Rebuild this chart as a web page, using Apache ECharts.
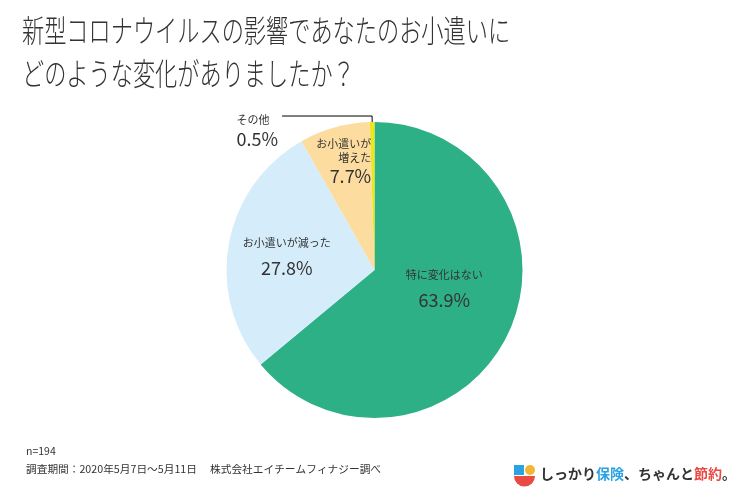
<!DOCTYPE html>
<html>
<head>
<meta charset="utf-8">
<script src="https://cdn.jsdelivr.net/npm/echarts@6/dist/echarts.min.js"></script>
<style>
    html, body { margin: 0; padding: 0; background: #fff; }
    #chart { width: 750px; height: 500px; }
</style>
</head>
<body>
<div id="chart"></div>
<script>
// データ
var names = ["特に変化はない", "お小遣いが減った", "お小遣いが増えた", "その他"];
var labelNames = ["特に変化はない", "お小遣いが減った", "お小遣いが\n増えた", "その他"];
var values = [63.9, 27.8, 7.7, 0.5];
var colors = ["#2eb086", "#d5ecfa", "#fddc9f", "#ece61c"];

(function() {
    var font = "'Noto Sans CJK JP', sans-serif";
    let myChart = echarts.init(document.getElementById("chart"));

    // ラベル位置の微調整 (dx, dy)
    var labelShift = [[0, -15], [-12, 0], [-10, -34], [0, 0]];
    // ラベルの文字スタイル (名前, 数値)
    var labelKeys = [["n", "v"], ["n", "v"], ["r", "w"], ["l", "u"]];

    var pieData = names.map(function(n, i) {
        var item = {
            name: n,
            value: values[i],
            itemStyle: { color: colors[i] }
        };
        if (i == 3) {
            item.label = {
                position: "outside",
                padding: [30, 0, 0, 0],
                distanceToLabelLine: 4
            };
            item.labelLine = {
                show: true,
                length: 6,
                length2: 90,
                lineStyle: { color: "#000", width: 1 }
            };
        }
        return item;
    });

    let option = {
        animation: false,
        textStyle: { fontFamily: font },
        graphic: [{
            type: "text",
            left: 22,
            top: 8,
            scaleY: 1.4,
            style: {
                text: "新型コロナウイルスの影響であなたのお小遣いに\nどのような変化がありましたか？",
                font: "300 22.2px " + font,
                lineHeight: 31,
                fill: "#333"
            }
        }, {
            type: "text",
            left: 26,
            top: 446,
            style: { text: "n=194", font: "10.5px " + font, fill: "#333" }
        }, {
            type: "text",
            left: 26,
            top: 464,
            style: {
                text: "調査期間：2020年5月7日〜5月11日　 株式会社エイチームフィナジー調べ",
                font: "10.7px " + font,
                fill: "#333"
            }
        }, {
            type: "group",
            left: 514,
            top: 465,
            children: [{
                type: "rect",
                shape: { x: 0, y: 0, width: 10, height: 10 },
                style: { fill: "#2aa3e0" }
            }, {
                type: "circle",
                shape: { cx: 16, cy: 5, r: 5 },
                style: { fill: "#f2b632" }
            }, {
                type: "sector",
                shape: { cx: 10.5, cy: 11, r: 10.5, startAngle: 0, endAngle: Math.PI },
                style: { fill: "#e94a42" }
            }]
        }, {
            type: "text",
            left: 540,
            top: 467,
            style: {
                text: "{a|しっかり}{b|保険}{a|、ちゃんと}{c|節約}{a|。}",
                rich: {
                    a: { fontSize: 14, fontWeight: "bold", fill: "#333", fontFamily: font },
                    b: { fontSize: 14, fontWeight: "bold", fill: "#2aa3e0", fontFamily: font },
                    c: { fontSize: 14, fontWeight: "bold", fill: "#e94a42", fontFamily: font }
                }
            }
        }],
        series: [{
            type: "pie",
            radius: [0, 148],
            center: [374.5, 270],
            startAngle: 90,
            clockwise: true,
            data: pieData,
            label: {
                show: true,
                position: "inside",
                color: "#333",
                formatter: function(p) {
                    var k = labelKeys[p.dataIndex];
                    return labelNames[p.dataIndex].split("\n").map(function(s) {
                        return "{" + k[0] + "|" + s + "}";
                    }).join("\n") + "\n{" + k[1] + "|" + p.value.toFixed(1) + "%}";
                },
                rich: {
                    n: { fontSize: 11, lineHeight: 15, color: "#333" },
                    v: { fontSize: 18, lineHeight: 26, color: "#333", padding: [10, 0, 0, 0] },
                    r: { fontSize: 11, lineHeight: 14, color: "#333", align: "right" },
                    w: { fontSize: 18, lineHeight: 22, color: "#333", align: "right" },
                    l: { fontSize: 11, lineHeight: 17, color: "#333", align: "left" },
                    u: { fontSize: 18, lineHeight: 22, color: "#333", align: "left" }
                }
            },
            labelLayout: function(params) {
                var s = labelShift[params.dataIndex];
                return { dx: s[0], dy: s[1] };
            },
            emphasis: { disabled: true }
        }]
    };
    myChart.setOption(option);
    window.addEventListener("resize", function() {
        myChart.resize();
    });
})();
</script>
</body>
</html>
